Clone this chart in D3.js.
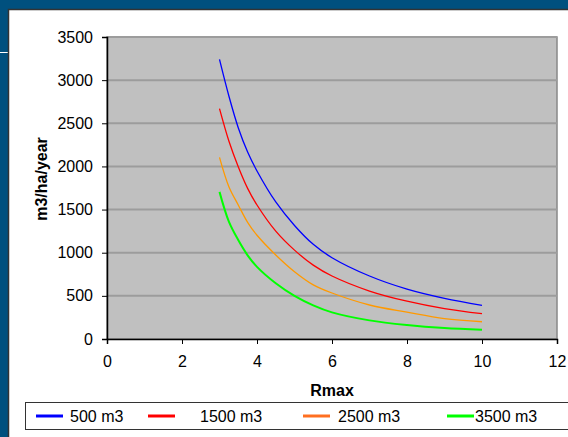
<!DOCTYPE html>
<html>
<head>
<meta charset="utf-8">
<script src="https://cdn.jsdelivr.net/npm/d3@7"></script>
<style>
  body { margin: 0; background: #00507e; }
  svg { display: block; font-family: "Liberation Sans", Arial, sans-serif; }
</style>
</head>
<body>
<div class="chart"></div>
<script>
// values
const rmax = [3, 3.25, 3.5, 3.75, 4, 4.5, 5, 5.5, 6, 7, 8, 9, 10];
const v500 = [3240, 2816, 2449, 2167, 1947, 1588, 1316, 1097, 942, 730, 578, 471, 390];
const v1500 = [2670, 2295, 1997, 1746, 1553, 1250, 1030, 856, 730, 556, 438, 352, 293];
const v2500 = [2105, 1765, 1553, 1352, 1202, 974, 780, 628, 533, 394, 311, 236, 200];
const v3500 = [1705, 1360, 1147, 970, 836, 646, 500, 390, 309, 216, 162, 127, 108];
const seriesNames = ["500 m3", "1500 m3", "2500 m3", "3500 m3"];
const xTicks = [0, 2, 4, 6, 8, 10, 12];
const yTicks = [0, 500, 1000, 1500, 2000, 2500, 3000, 3500];

(function() {
  const lineColors = ["#0000ff", "#ff0000", "#ff9900", "#00ff00"];
  const legendColors = ["#0000ff", "#ff0000", "#ff6f20", "#00ff00"];
  const seriesVals = [v500, v1500, v2500, v3500];

  const W = 568, H = 437;
  const plotLeft = 107, plotRight = 557, plotTop = 37, plotBottom = 339;

  const svg = d3.select('.chart').append('svg')
    .attr('width', W)
    .attr('height', H);

  // blue slide background with white panel
  svg.append('rect').attr('x', 0).attr('y', 0).attr('width', W).attr('height', H).attr('fill', '#00507e');
  svg.append('line').attr('x1', 0).attr('x2', 8).attr('y1', 52.5).attr('y2', 52.5)
    .attr('stroke', '#ffffff').attr('stroke-width', 1);
  svg.append('rect').attr('x', 8.5).attr('y', 9.5).attr('width', W).attr('height', H)
    .attr('fill', '#ffffff').attr('stroke', '#333333').attr('stroke-width', 1.5);

  const x = d3.scaleLinear().domain([0, 12]).range([plotLeft, plotRight]);
  const y = d3.scaleLinear().domain([0, 3500]).range([plotBottom, plotTop]);

  // plot area
  svg.append('rect')
    .attr('x', plotLeft).attr('y', plotTop)
    .attr('width', plotRight - plotLeft).attr('height', plotBottom - plotTop)
    .attr('fill', '#c0c0c0')
    .attr('stroke', '#888888').attr('stroke-width', 1.5);

  // gridlines
  svg.append('g').selectAll('line')
    .data(yTicks.slice(1))
    .enter()
    .append('line')
      .attr('x1', plotLeft).attr('x2', plotRight)
      .attr('y1', (d) => y(d)).attr('y2', (d) => y(d))
      .attr('stroke', '#9c9c9c').attr('stroke-width', 2);

  // axes
  const xAxis = d3.axisBottom(x).tickValues(xTicks).tickFormat(d3.format('d'))
    .tickSize(5).tickPadding(12);
  const yAxis = d3.axisLeft(y).tickValues(yTicks).tickFormat(d3.format('d'))
    .tickSize(5).tickPadding(9);

  const gx = svg.append('g').attr('transform', `translate(0, ${plotBottom})`).call(xAxis);
  const gy = svg.append('g').attr('transform', `translate(${plotLeft}, 0)`).call(yAxis);
  [gx, gy].forEach((g) => {
    g.attr('font-size', 16).attr('font-family', '"Liberation Sans", Arial, sans-serif');
    g.selectAll('text').attr('fill', '#000');
    g.selectAll('line').attr('stroke', '#000');
    g.select('.domain').attr('stroke', '#000').attr('stroke-width', 1.5);
  });

  svg.append('text')
    .attr('x', 332).attr('y', 396)
    .attr('text-anchor', 'middle')
    .attr('font-size', 16).attr('font-weight', 'bold')
    .text('Rmax');

  svg.append('text')
    .attr('transform', 'translate(47, 179)rotate(-90)')
    .attr('text-anchor', 'middle')
    .attr('font-size', 16).attr('font-weight', 'bold')
    .text('m3/ha/year');

  // curves
  const line = d3.line()
    .x((d) => x(d[0]))
    .y((d) => y(d[1]))
    .curve(d3.curveCatmullRom.alpha(0.5));

  svg.append('g').selectAll('path')
    .data(seriesVals)
    .enter()
    .append('path')
      .attr('d', (vals) => line(rmax.map((r, i) => [r, vals[i]])))
      .attr('fill', 'none')
      .attr('stroke', (d, i) => lineColors[i])
      .attr('stroke-width', (d, i) => i === 3 ? 2 : 1.3);

  // legend
  svg.append('rect')
    .attr('x', 25.5).attr('y', 402.5)
    .attr('width', 560).attr('height', 27)
    .attr('fill', '#ffffff').attr('stroke', '#333333').attr('stroke-width', 1);

  const legendLineX = [36, 148, 303, 447];
  const legendTextX = [70, 200, 338, 475];

  const leg = svg.append('g').selectAll('g')
    .data(seriesNames)
    .enter()
    .append('g');

  leg.append('line')
    .attr('x1', (d, i) => legendLineX[i]).attr('x2', (d, i) => legendLineX[i] + 27)
    .attr('y1', 416).attr('y2', 416)
    .attr('stroke', (d, i) => legendColors[i]).attr('stroke-width', 3);

  leg.append('text')
    .attr('x', (d, i) => legendTextX[i]).attr('y', 422)
    .attr('font-size', 16)
    .text((d) => d);
})();
</script>
</body>
</html>
